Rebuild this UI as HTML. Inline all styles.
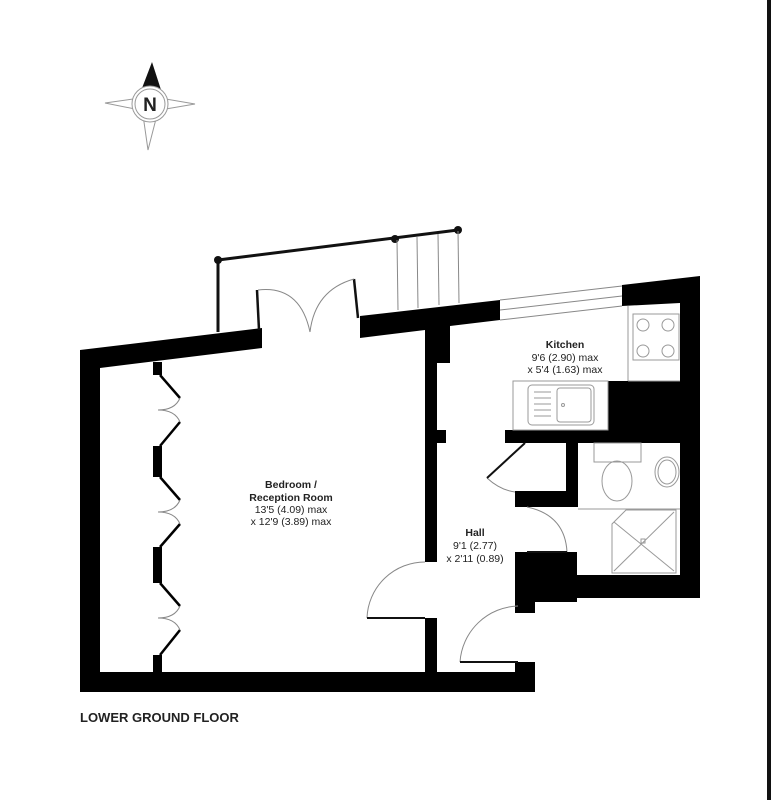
<!DOCTYPE html>
<html><head><style>
html,body{margin:0;padding:0;background:#fff;}
svg{display:block;}
text{font-family:"Liberation Sans",sans-serif;fill:#222;}
</style></head><body>
<svg width="771" height="800" viewBox="0 0 771 800" xmlns="http://www.w3.org/2000/svg">
<rect width="771" height="800" fill="#fff"/>
<rect x="767" y="0" width="4" height="800" fill="#111"/>

<!-- compass -->
<g stroke="#999" stroke-width="1" fill="#fff">
<polygon points="105,103 140,98 150,104 140,110"/>
<polygon points="195,104 160,98 150,104 160,110"/>
<polygon points="148,150 143,115 150,104 157,115"/>
</g>
<polygon points="152,62 139,96 163,96" fill="#111"/>
<circle cx="150" cy="104" r="18" fill="#fff" stroke="#999"/>
<circle cx="150" cy="104" r="15" fill="#fff" stroke="#999"/>
<text x="150" y="111" font-size="19" font-weight="bold" text-anchor="middle">N</text>

<!-- patio railing and stairs -->
<g stroke="#111" stroke-width="3" fill="none">
<line x1="218" y1="260" x2="218" y2="332"/>
<line x1="218" y1="260" x2="458" y2="230"/>
</g>
<circle cx="218" cy="260" r="4" fill="#111"/>
<circle cx="395" cy="239" r="4" fill="#111"/>
<circle cx="458" cy="230" r="4" fill="#111"/>
<g stroke="#888" stroke-width="1">
<line x1="397" y1="240" x2="398" y2="310"/>
<line x1="417" y1="237" x2="418" y2="308"/>
<line x1="438" y1="234" x2="439" y2="305"/>
<line x1="458" y1="231" x2="459" y2="303"/>
</g>

<!-- walls -->
<g fill="#000">
<!-- top wall left segment -->
<polygon points="80,350 262,328 262,348 100,368 100,692 80,692"/>
<!-- top wall middle -->
<polygon points="360,316 500,300 500,320 450,326 450,363 437,363 437,672 425,672 425,618 425,330 360,338"/>
<!-- top wall right -->
<polygon points="622,285 700,276 700,598 680,598 680,303 622,306"/>
<!-- bottom wall -->
<rect x="80" y="672" width="455" height="20"/>
<rect x="515" y="662" width="20" height="30"/>
<!-- bumps -->
<rect x="437" y="430" width="9" height="13"/>
<!-- kitchen/bath wall -->
<rect x="505" y="430" width="175" height="13"/>
<rect x="608" y="381" width="72" height="52"/>
<!-- cupboard -->
<rect x="566" y="443" width="12" height="64"/>
<rect x="515" y="491" width="63" height="16"/>
<!-- lower block -->
<rect x="515" y="552" width="62" height="50"/>
<rect x="515" y="575" width="185" height="23"/>
<rect x="515" y="598" width="20" height="15"/>
</g>
<!-- partition wall gap (door) -->
<rect x="424" y="562" width="14" height="56" fill="#fff"/>

<!-- window -->
<g stroke="#888" stroke-width="1">
<line x1="500" y1="300" x2="622" y2="286"/>
<line x1="500" y1="310" x2="622" y2="296"/>
<line x1="500" y1="320" x2="622" y2="306"/>
</g>

<!-- french doors -->
<g stroke="#111" stroke-width="2.5"><line x1="257" y1="290" x2="259" y2="330"/><line x1="354" y1="279" x2="358" y2="318"/></g>
<g stroke="#888" stroke-width="1" fill="none">
<path d="M258,290 Q300,285 310,332"/>
<path d="M354,279 Q315,290 310,332"/>
</g>

<!-- bifold doors -->
<g fill="#000">
<rect x="153" y="362" width="9" height="13"/>
<rect x="153" y="446" width="9" height="31"/>
<rect x="153" y="547" width="9" height="36"/>
<rect x="153" y="655" width="9" height="18"/>
</g>
<g stroke="#000" stroke-width="2.5" fill="none">
<line x1="160" y1="375" x2="180" y2="398"/><line x1="180" y1="422" x2="160" y2="446"/>
<line x1="160" y1="477" x2="180" y2="500"/><line x1="180" y1="524" x2="160" y2="547"/>
<line x1="160" y1="583" x2="180" y2="606"/><line x1="180" y1="630" x2="160" y2="655"/>
</g>
<g stroke="#888" stroke-width="1" fill="none">
<path d="M180,398 Q175,410 158,410 Q175,410 180,422"/>
<path d="M180,500 Q175,512 158,512 Q175,512 180,524"/>
<path d="M180,606 Q175,618 158,618 Q175,618 180,630"/>
</g>

<!-- doors -->
<g stroke="#888" stroke-width="1" fill="none">
<path d="M367,618 A58,58 0 0 1 425,562"/>
<path d="M460,662 A60,60 0 0 1 518,606"/>
<path d="M487,478 Q500,490 515,492"/>
<path d="M527,507 Q565,515 567,552"/>
</g>
<g stroke="#111" stroke-width="2">
<line x1="367" y1="618" x2="425" y2="618"/>
<line x1="460" y1="662" x2="518" y2="662"/>
<line x1="525" y1="443" x2="487" y2="478"/>
<line x1="527" y1="552" x2="567" y2="552"/>
</g>

<!-- kitchen fittings -->
<g stroke="#999" stroke-width="1" fill="none">
<rect x="513" y="381" width="95" height="49"/>
<line x1="628" y1="306" x2="628" y2="381"/>
<line x1="628" y1="381" x2="680" y2="381"/>
<rect x="633" y="314" width="46" height="46"/>
<circle cx="643" cy="325" r="6"/><circle cx="668" cy="325" r="6"/>
<circle cx="643" cy="351" r="6"/><circle cx="668" cy="351" r="6"/>
<rect x="528" y="385" width="66" height="40" rx="4"/>
<rect x="557" y="388" width="34" height="34" rx="3"/>
<line x1="534" y1="392" x2="551" y2="392"/><line x1="534" y1="398" x2="551" y2="398"/>
<line x1="534" y1="404" x2="551" y2="404"/><line x1="534" y1="410" x2="551" y2="410"/>
<line x1="534" y1="416" x2="551" y2="416"/>
<circle cx="563" cy="405" r="1.5"/>
<!-- bathroom -->
<rect x="594" y="443" width="47" height="19"/>
<ellipse cx="617" cy="481" rx="15" ry="20"/>
<ellipse cx="667" cy="472" rx="12" ry="15"/>
<ellipse cx="667" cy="472" rx="9" ry="12"/>
<line x1="578" y1="509" x2="680" y2="509"/>
<polygon points="626,510 676,510 676,573 612,573 612,524"/>
<line x1="614" y1="522" x2="674" y2="571"/>
<line x1="674" y1="512" x2="614" y2="571"/>
<rect x="641" y="539" width="4" height="4"/>
</g>

<!-- labels -->
<g font-size="10.5" text-anchor="middle">
<text x="291" y="488" font-weight="bold">Bedroom /</text>
<text x="291" y="501" font-weight="bold">Reception Room</text>
<text x="291" y="513">13'5 (4.09) max</text>
<text x="291" y="525">x 12'9 (3.89) max</text>
<text x="565" y="348" font-weight="bold">Kitchen</text>
<text x="565" y="361">9'6 (2.90) max</text>
<text x="565" y="373">x 5'4 (1.63) max</text>
<text x="475" y="536" font-weight="bold">Hall</text>
<text x="475" y="549">9'1 (2.77)</text>
<text x="475" y="562">x 2'11 (0.89)</text>
</g>
<text x="80" y="722" font-size="13" font-weight="bold">LOWER GROUND FLOOR</text>
</svg>
</body></html>
